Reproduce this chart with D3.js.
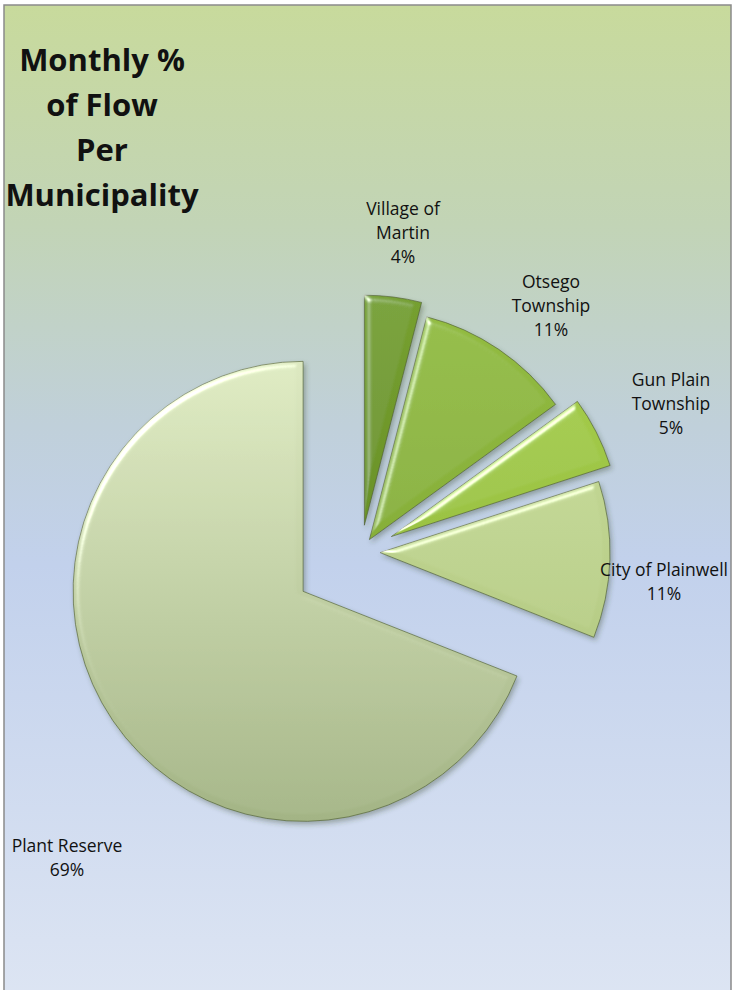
<!DOCTYPE html>
<html>
<head>
  <meta charset="utf-8">
  <script src="https://d3js.org/d3.v7.min.js"></script>
  <style>
    body { margin:0; background:#fff; }
    text { font-family: "Open Sans", "DejaVu Sans", sans-serif; fill:#111; }
  </style>
</head>
<body>
  <script>
    // data
    var categories = ["Village of Martin", "Otsego Township", "Gun Plain Township", "City of Plainwell", "Plant Reserve"];
    var values = [4, 11, 5, 11, 69];
    var labelLines = [["Village of", "Martin"], ["Otsego", "Township"], ["Gun Plain", "Township"], ["City of Plainwell"], ["Plant Reserve"]];
    var titleLines = ["Monthly %", "of Flow", "Per", "Municipality"];

    // layout / style
    var width = 734, height = 990;
    var cx = 361, cy = 552, R = 230;
    var explode = [27, 15, 34, 19, 70];
    var topColors = ["#76a030", "#93bc42", "#a8cf4c", "#cbde9f", "#dde9c1"];
    var botColors = ["#5e8420", "#7aa230", "#8db63a", "#adc47a", "#a3b485"];
    var labelPos = [[403, 215], [551, 288], [671, 386], [664, 576], [67, 852]];

    var svg = d3.select("body").append("svg")
      .attr("width", width)
      .attr("height", height);

    var defs = svg.append("defs");

    // fond du graphique
    var bg = defs.append("linearGradient").attr("id", "bg")
      .attr("x1", 0).attr("y1", 0).attr("x2", 0).attr("y2", 1);
    [[0, "#c8da9c"], [0.22, "#c2d4b6"], [0.42, "#c0d0da"], [0.56, "#c2d1ec"], [1, "#dde5f3"]]
      .forEach(function(s) { bg.append("stop").attr("offset", s[0]).attr("stop-color", s[1]); });

    values.forEach(function(v, i) {
      var g = defs.append("linearGradient").attr("id", "fill" + i)
        .attr("gradientUnits", "userSpaceOnUse")
        .attr("x1", 0).attr("y1", -R).attr("x2", 0).attr("y2", R);
      g.append("stop").attr("offset", 0).attr("stop-color", topColors[i]);
      g.append("stop").attr("offset", 1).attr("stop-color", botColors[i]);
    });

    // bevel + ombre
    var f = defs.append("filter").attr("id", "bevel")
      .attr("x", "-10%").attr("y", "-10%").attr("width", "125%").attr("height", "125%");
    f.append("feGaussianBlur").attr("in", "SourceAlpha").attr("stdDeviation", 3).attr("result", "blur");
    var spec = f.append("feSpecularLighting").attr("in", "blur")
      .attr("surfaceScale", 5).attr("specularConstant", 0.8).attr("specularExponent", 22)
      .attr("lighting-color", "#ffffff").attr("result", "spec");
    spec.append("feDistantLight").attr("azimuth", 225).attr("elevation", 26);
    f.append("feComposite").attr("in", "spec").attr("in2", "SourceAlpha").attr("operator", "in").attr("result", "specIn");
    f.append("feComposite").attr("in", "SourceGraphic").attr("in2", "specIn")
      .attr("operator", "arithmetic").attr("k1", 0).attr("k2", 1).attr("k3", 1).attr("k4", 0).attr("result", "lit");
    f.append("feDropShadow").attr("in", "lit").attr("dx", 2).attr("dy", 3)
      .attr("stdDeviation", 2.5).attr("flood-color", "#33402a").attr("flood-opacity", 0.35);

    svg.append("rect")
      .attr("x", 4).attr("y", 5)
      .attr("width", 727).attr("height", 1000)
      .attr("fill", "url(#bg)")
      .attr("stroke", "#8a8a8a")
      .attr("stroke-width", 1.5);

    // le camembert éclaté
    var pie = d3.pie().sort(null).value(function(d) { return d; });
    var arc = d3.arc().innerRadius(0).outerRadius(R);
    var arcs = pie(values);

    var chart = svg.append("g").attr("transform", "translate(" + cx + "," + cy + ")");

    chart.selectAll("path.slice")
      .data(arcs)
      .enter()
      .append("path")
      .attr("class", "slice")
      .attr("transform", function(d, i) {
        var a = (d.startAngle + d.endAngle) / 2;
        return "translate(" + (Math.sin(a) * explode[i]) + "," + (-Math.cos(a) * explode[i]) + ")";
      })
      .attr("d", arc)
      .attr("fill", function(d, i) { return "url(#fill" + i + ")"; })
      .attr("stroke", "#4f5f32")
      .attr("stroke-opacity", 0.8)
      .attr("stroke-width", 0.8)
      .attr("filter", "url(#bevel)");

    // étiquettes
    var fmt = d3.format(".0%");
    var total = d3.sum(values);
    arcs.forEach(function(d, i) {
      var lines = labelLines[i].concat([fmt(values[i] / total)]);
      var t = svg.append("text")
        .attr("x", labelPos[i][0])
        .attr("y", labelPos[i][1])
        .attr("text-anchor", "middle")
        .attr("font-size", "17.5px");
      lines.forEach(function(l, j) {
        t.append("tspan").attr("x", labelPos[i][0]).attr("dy", j === 0 ? 0 : 24).text(l);
      });
    });

    // titre
    var title = svg.append("text")
      .attr("x", 102).attr("y", 71)
      .attr("text-anchor", "middle")
      .attr("font-size", "31px")
      .attr("font-weight", "bold");
    titleLines.forEach(function(l, j) {
      title.append("tspan").attr("x", 102).attr("dy", j === 0 ? 0 : 45).text(l);
    });
  </script>
</body>
</html>
